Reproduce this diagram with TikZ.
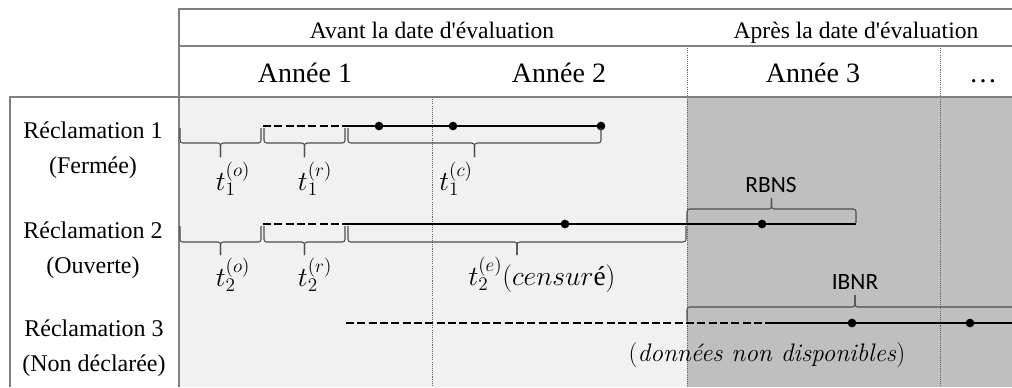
\documentclass[tikz,border=0pt]{standalone}
\usepackage[no-math]{fontspec}
\setmainfont{Liberation Serif}[Ligatures=TeXOff]
\newfontfamily\calibri{Carlito}
\newfontfamily\lmr{Latin Modern Roman}
\usepackage{tikz}
\usetikzlibrary{calc}
\definecolor{grisClair}{HTML}{F1F1F1}
\definecolor{grisFonce}{HTML}{BFBFBF}
\definecolor{grisTrait}{HTML}{808080}
\definecolor{grisPoint}{HTML}{666666}
\definecolor{grisAccolade}{HTML}{4D4D4D}

\begin{document}
\begin{tikzpicture}[x=0.75pt, y=-0.75pt,
        cadre/.style={grisTrait, line width=1.3pt},
        sep/.style={grisPoint, line width=0.6pt, dash pattern=on 0.8pt off 0.8pt},
        entete/.style={font=\fontsize{17.7}{20}\selectfont, anchor=base},
        annee/.style={font=\fontsize{21}{24}\selectfont, anchor=base},
        recl/.style={font=\fontsize{18}{26}\selectfont, align=center},
        duree/.style={font=\fontsize{20.5}{24}\selectfont},
        sigle/.style={font=\calibri\fontsize{17.5}{20}\selectfont},
        reel/.style={line width=2.2pt},
        latent/.style={line width=1.5pt, dash pattern=on 6pt off 2.5pt},
        evt/.style={circle, fill, inner sep=0pt, minimum size=6.5pt},
        accolade/.style={grisAccolade, line width=0.8pt, rounded corners=2pt}]
    \useasboundingbox (0,0) rectangle (1012,387);
    \clip (0,0) rectangle (1012,387);
    \fill[grisClair] (179,97) rectangle (687,387);
    \fill[grisFonce] (687,97) rectangle (1012,387);
    \draw[sep] (432,97) -- (432,387);
    \foreach \x in {687,940} \draw[sep] (\x,46) -- (\x,387);
    \draw[cadre] (1012,9) -- (179,9) -- (179,387);
    \draw[cadre] (179,46) -- (1012,46);
    \draw[cadre] (1012,97) -- (10,97) -- (10,387);
    \node[entete] (avant) at (432,38) {Avant la date d'évaluation};
    \node[entete] (apres) at (856,38) {Après la date d'évaluation};
    \foreach \n/\x in {1/305,2/559,3/813} \node[annee] (an\n) at (\x,82) {Année \n};
    \node[annee] (suite) at (983,82) {\dots};
    \node[recl] (r1) at (93,150) {Réclamation 1\\(Fermée)};
    \node[recl] (r2) at (93,250) {Réclamation 2\\(Ouverte)};
    \node[recl] (r3) at (94,348) {Réclamation 3\\(Non déclarée)};
    \coordinate (a1) at (263,126); \coordinate (b1) at (346,126); \coordinate (c1) at (601,126);
    \coordinate (a2) at (263,224); \coordinate (b2) at (346,224); \coordinate (c2) at (856,224);
    \coordinate (a3) at (346,323); \coordinate (b3) at (772,323); \coordinate (c3) at (1030,323);
    \foreach \k in {1,2,3} {
        \draw[latent] (a\k) -- (b\k);
        \draw[reel] (b\k) -- (c\k);
    }
    \foreach \x [count=\i] in {379,453,601} \node[evt] (p1\i) at (\x,126) {};
    \foreach \x [count=\i] in {565,762} \node[evt] (p2\i) at (\x,224) {};
    \foreach \x [count=\i] in {852,970} \node[evt] (p3\i) at (\x,323) {};
    \foreach \xa/\xb/\y/\h/\t in {180/261/128/15/14, 264/345/128/15/14, 348/601/128/15/14,
            180/261/226/16/13, 264/345/226/16/13, 348/686/226/16/13,
            687/856/223/-14/-11, 687/1023/321/-14/-12} {
        \draw[accolade] (\xa,\y) |- ({(\xa+\xb)/2},{\y+\h}) -- ++(0,\t);
        \draw[accolade] (\xb,\y) |- ({(\xa+\xb)/2},{\y+\h}) -- ++(0,\t);
    }
    \node[duree] (to1) at (233,179) {$t_1^{(o)}$};
    \node[duree] (tr1) at (315,179) {$t_1^{(r)}$};
    \node[duree] (tc1) at (456,179) {$t_1^{(c)}$};
    \node[duree] (to2) at (233,275) {$t_2^{(o)}$};
    \node[duree] (tr2) at (315,275) {$t_2^{(r)}$};
    \node[duree] (te2) at (542,275) {$t_2^{(e)}(censur\mbox{é})$};
    \node[sigle] (rbns) at (771,185) {RBNS};
    \node[sigle] (ibnr) at (855,282) {IBNR};
    \node[font=\lmr\fontsize{19}{22}\selectfont] (nd) at (767,355) {(\textit{données non disponibles})};
\end{tikzpicture}
\end{document}
